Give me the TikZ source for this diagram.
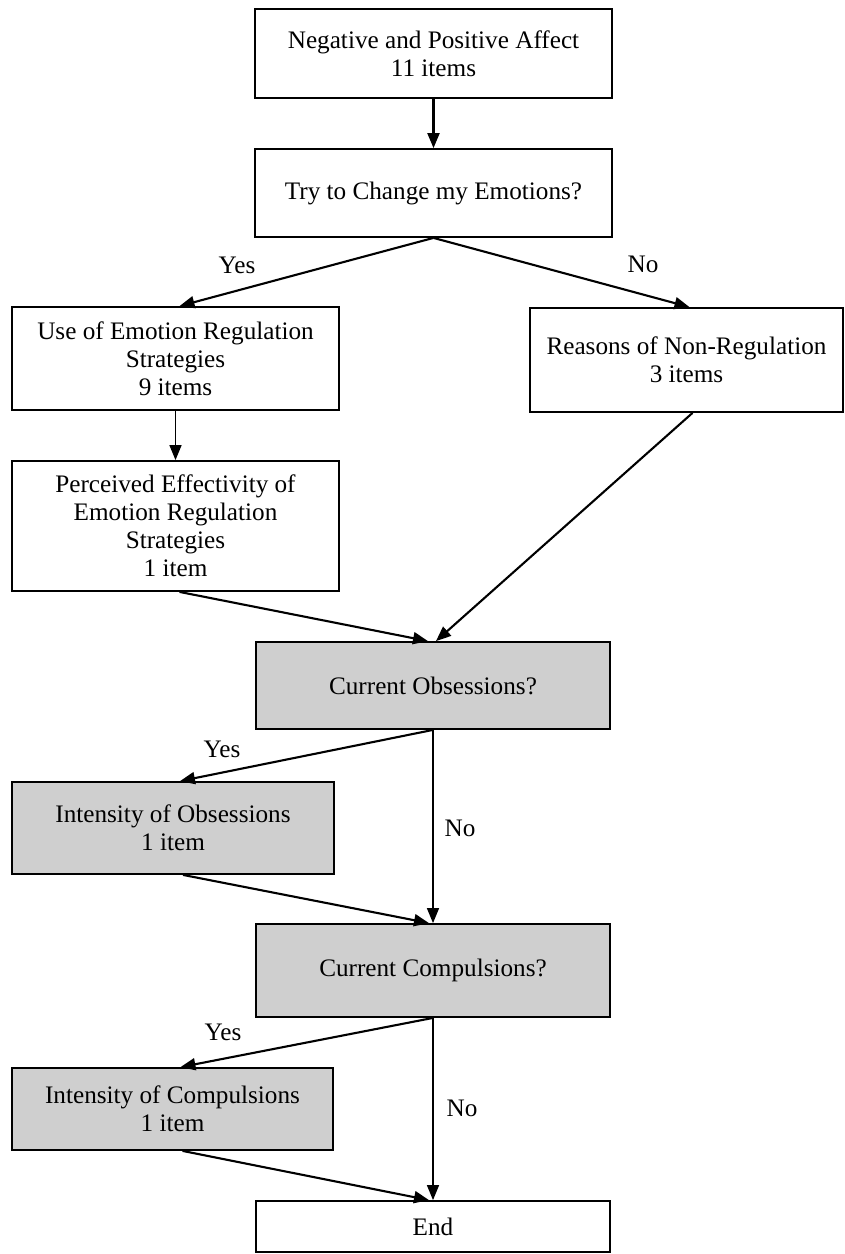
\documentclass[tikz,border=0pt]{standalone}
\usepackage{fontspec}
\setmainfont{Liberation Serif}
\usetikzlibrary{arrows.meta}

\tikzset{
  box/.style={draw, line width=1.8pt, inner sep=0pt, align=center, font=\fontsize{25.2}{28}\selectfont},
  greybox/.style={box, fill=black!19},
  arr/.style={line width=2.1pt, -{Triangle[length=15pt,width=12pt]}},
  thinarr/.style={line width=1.4pt, -{Triangle[length=15pt,width=12pt]}},
  lbl/.style={inner sep=0pt, font=\fontsize{25.2}{28}\selectfont},
}

\begin{document}
\begin{tikzpicture}[x=1pt, y=-1pt]
			%%%%% FRAME %%%%%
			\useasboundingbox (0,0) rectangle (845,1254);
			
			%%%%% BOXES %%%%%
			\node[box, minimum width=357, minimum height=89] (affect) at (433.5, 53.5) {Negative and Positive Affect\\11 items};
			\node[box, minimum width=357, minimum height=88] (change) at (433.5, 193) {Try to Change my Emotions?};
			
			\node[box, minimum width=327, minimum height=103] (usestrat) at (175.5, 358.5) {Use of Emotion Regulation\\Strategies\\9 items};
			\node[box, minimum width=313, minimum height=104] (reasons) at (686.5, 360) {Reasons of Non-Regulation\\3 items};
			\node[box, minimum width=327, minimum height=130] (effect) at (175.5, 526) {Perceived Effectivity of\\Emotion Regulation\\Strategies\\1 item};
			
			\node[greybox, minimum width=354, minimum height=87] (obs) at (433, 685.5) {Current Obsessions?};
			\node[greybox, minimum width=322, minimum height=92] (intobs) at (173, 828) {Intensity of Obsessions\\1 item};
			\node[greybox, minimum width=354, minimum height=93] (comp) at (433, 970.5) {Current Compulsions?};
			\node[greybox, minimum width=321, minimum height=82] (intcomp) at (172.5, 1109) {Intensity of Compulsions\\1 item};
			\node[box, minimum width=354, minimum height=51] (endbox) at (433, 1226.5) {End};
			
			%%%%% LABELS %%%%%
			\node[lbl] (yes1) at (237, 265) {Yes};
			\node[lbl] (no1) at (643, 264) {No};
			\node[lbl] (yes2) at (222, 749) {Yes};
			\node[lbl] (no2) at (460, 828) {No};
			\node[lbl] (yes3) at (223, 1032) {Yes};
			\node[lbl] (no3) at (462, 1108) {No};
			
			%%%%% ARROWS %%%%%
			\draw[arr] (affect) -- (change);
			\draw[arr] (change.south) -- ([xshift=4]usestrat.north);
			\draw[arr] (change.south) -- ([xshift=3]reasons.north);
			\draw[thinarr] (usestrat) -- (effect);
			\draw[arr] ([xshift=4]effect.south) -- ([xshift=-5]obs.north);
			\draw[arr] ([xshift=6]reasons.south) -- ([xshift=3]obs.north);
			
			\draw[arr] (obs.south) -- ([xshift=7]intobs.north);
			\draw[thinarr] (obs) -- (comp);
			\draw[arr] ([xshift=10]intobs.south) -- ([xshift=-4]comp.north);
			
			\draw[arr] (comp.south) -- ([xshift=8]intcomp.north);
			\draw[thinarr] (comp) -- (endbox);
			\draw[arr] ([xshift=10]intcomp.south) -- ([xshift=-4]endbox.north);
			
			%%%%% END %%%%%
\end{tikzpicture}
\end{document}
